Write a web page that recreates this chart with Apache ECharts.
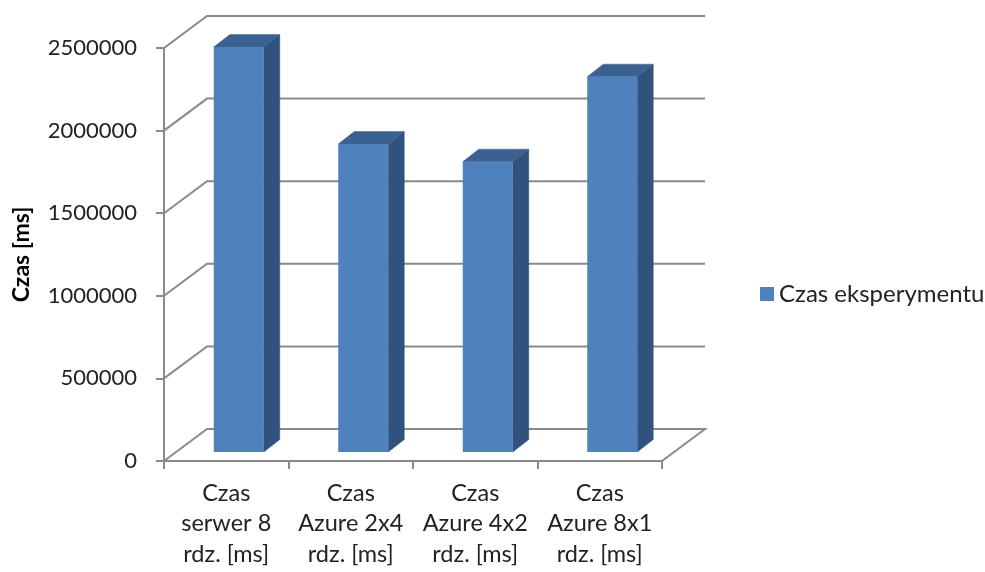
<!DOCTYPE html>
<html>
<head>
<meta charset="utf-8">
<script src="https://cdn.jsdelivr.net/npm/echarts@6/dist/echarts.min.js"></script>
<style>html,body{margin:0;padding:0;background:#fff}#c{width:985px;height:572px}</style>
</head>
<body>
<div id="c"></div>
<script>
var categories = ['Czas\nserwer 8\nrdz. [ms]', 'Czas\nAzure 2x4\nrdz. [ms]', 'Czas\nAzure 4x2\nrdz. [ms]', 'Czas\nAzure 8x1\nrdz. [ms]'];
var seriesName = 'Czas eksperymentu';
var values = [2451000, 1864000, 1757000, 2272000];
var yTicks = [0, 500000, 1000000, 1500000, 2000000, 2500000];
var yAxisTitle = 'Czas [ms]';

var FONT = 'Lato';
var GRID_COLOR = '#8a8a8a';
var WALL_DX = 43, WALL_DY = -32;
var BAR_SHIFT_X = 12.5, BAR_SHIFT_Y = -9, BAR_W = 50, BAR_DX = 16, BAR_DY = -12.5;

var chart = echarts.init(document.getElementById('c'), null, {renderer: 'canvas'});

function wallItem(params, api) {
  var v = api.value(0);
  var cs = params.coordSys;
  var p = api.coord([0, v]);
  var y = p[1];
  var x0 = cs.x, x1 = cs.x + cs.width;
  var pts = [[x0, y], [x0 + WALL_DX, y + WALL_DY], [x1 + WALL_DX, y + WALL_DY]];
  if (v === 0) pts.push([x1, y]);
  return {
    type: 'polyline',
    shape: {points: pts},
    style: {stroke: GRID_COLOR, lineWidth: 2, fill: null}
  };
}

function barItem(params, api) {
  var i = api.value(0), v = api.value(1);
  var base = api.coord([i, 0]);
  var top = api.coord([i, v]);
  var cx = base[0] + BAR_SHIFT_X;
  var xl = cx - BAR_W / 2, xr = cx + BAR_W / 2;
  var yb = base[1] + BAR_SHIFT_Y, yt = top[1] + BAR_SHIFT_Y;
  return {
    type: 'group',
    children: [
      {type: 'polygon', shape: {points: [[xr, yb], [xr + BAR_DX, yb + BAR_DY], [xr + BAR_DX, yt + BAR_DY], [xr, yt]]},
        style: {fill: '#30527c', stroke: '#30527c', lineWidth: 0.5}},
      {type: 'polygon', shape: {points: [[xl, yt], [xl + BAR_DX, yt + BAR_DY], [xr + BAR_DX, yt + BAR_DY], [xr, yt]]},
        style: {fill: '#3b6190', stroke: '#3b6190', lineWidth: 0.5}},
      {type: 'rect', shape: {x: xl, y: yt, width: BAR_W, height: yb - yt},
        style: {fill: '#4f81bd'}}
    ]
  };
}

chart.setOption({
  animation: false,
  backgroundColor: '#ffffff',
  grid: {left: 164, top: 48, width: 498, height: 413, outerBoundsMode: 'none', containLabel: false},
  legend: {
    data: [{name: seriesName, icon: 'rect'}],
    orient: 'vertical',
    left: 755, top: 277,
    itemWidth: 14, itemHeight: 14, itemGap: 6,
    textStyle: {fontFamily: FONT, fontSize: 24, color: '#222'}
  },
  xAxis: {
    type: 'category',
    data: categories,
    axisLine: {show: true, lineStyle: {color: GRID_COLOR, width: 2}},
    axisTick: {show: true, length: 8, lineStyle: {color: GRID_COLOR, width: 2}},
    axisLabel: {fontFamily: FONT, fontSize: 23.5, color: '#222', lineHeight: 30.5, margin: 17, interval: 0},
    splitLine: {show: false}
  },
  yAxis: {
    type: 'value',
    min: 0, max: 2500000, interval: 500000,
    name: yAxisTitle,
    nameLocation: 'middle',
    nameRotate: 90,
    nameGap: 131,
    nameTextStyle: {fontFamily: FONT, fontSize: 23, fontWeight: 'bold', color: '#000'},
    axisLine: {show: true, lineStyle: {color: GRID_COLOR, width: 2}},
    axisTick: {show: true, length: 8, lineStyle: {color: GRID_COLOR, width: 2}},
    axisLabel: {fontFamily: FONT, fontSize: 22, color: '#222', margin: 27,
      formatter: function (v) { return String(v); }},
    splitLine: {show: false}
  },
  series: [
    {
      type: 'custom',
      name: 'walls',
      z: 1,
      silent: true,
      renderItem: wallItem,
      encode: {y: 0},
      data: yTicks.map(function (t) { return [t]; })
    },
    {
      type: 'custom',
      name: seriesName,
      z: 2,
      itemStyle: {color: '#4f81bd'},
      renderItem: barItem,
      encode: {x: 0, y: 1},
      data: values.map(function (v, i) { return [i, v]; })
    }
  ]
});
</script>
</body>
</html>
